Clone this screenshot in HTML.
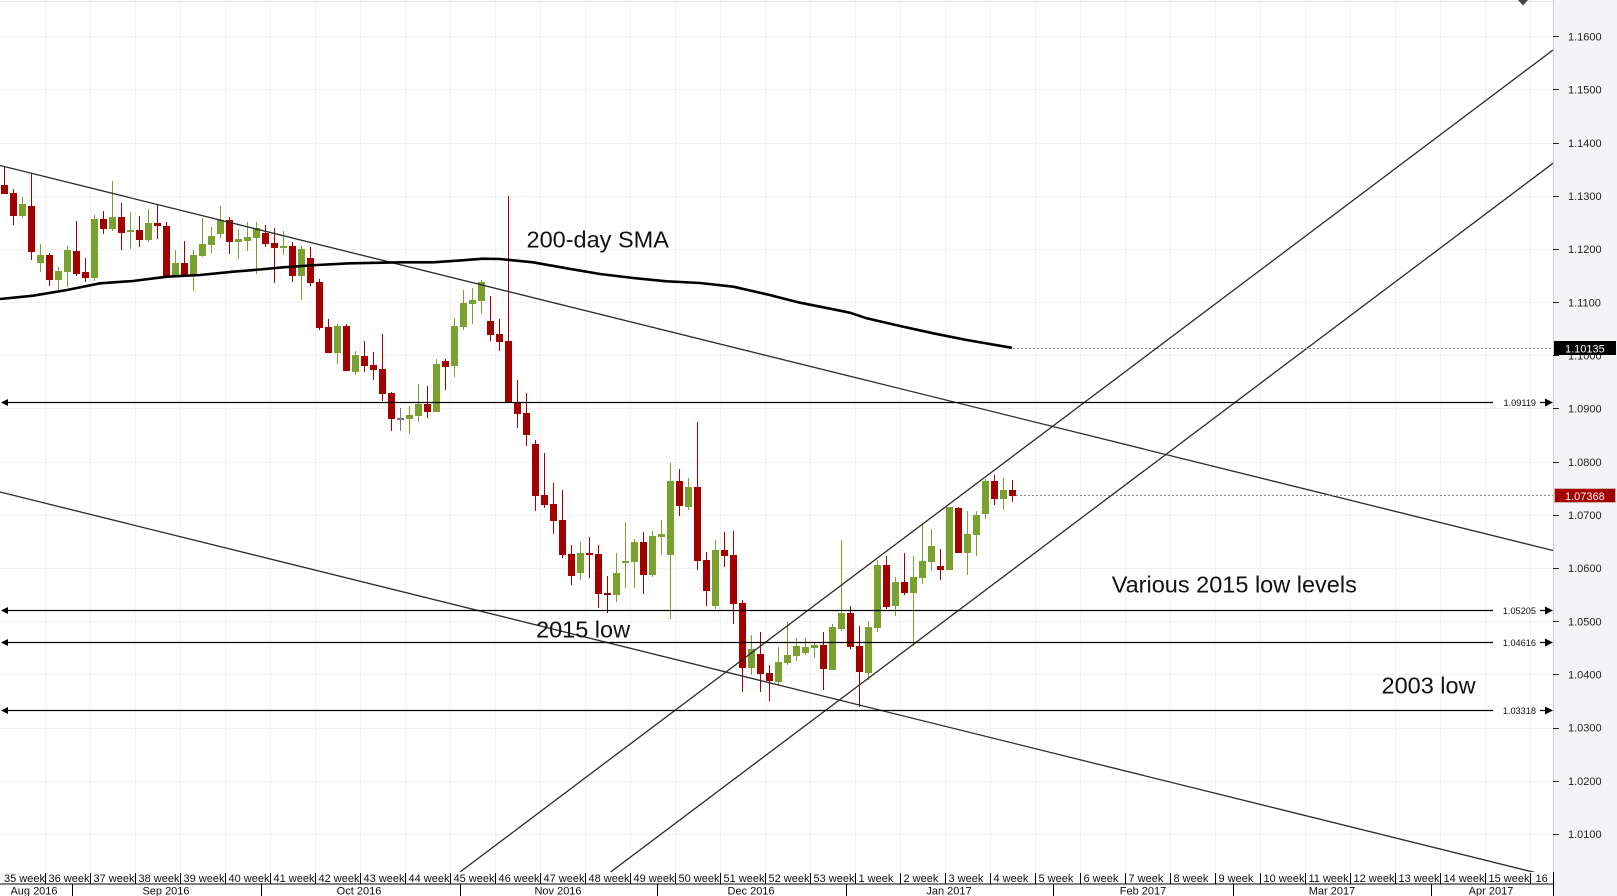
<!DOCTYPE html>
<html><head><meta charset="utf-8"><style>
html,body{margin:0;padding:0;background:#fff;}
svg{display:block;}
text{font-family:"Liberation Sans",Arial,sans-serif;}
</style></head><body>
<svg width="1617" height="896" viewBox="0 0 1617 896" xmlns="http://www.w3.org/2000/svg">
<defs><clipPath id="pc"><rect x="0" y="0" width="1553" height="872"/></clipPath></defs>
<rect x="0" y="0" width="1617" height="896" fill="#fff"/>
<!-- right axis panel -->
<rect x="1553.5" y="0" width="64" height="896" fill="#f4f4f6"/>
<line x1="1553.5" y1="0" x2="1553.5" y2="896" stroke="#cfcfcf" stroke-width="1"/>
<line x1="0" y1="1.5" x2="1553" y2="1.5" stroke="#e2e2e2" stroke-width="1"/>
<!-- grid -->
<g stroke="#f1f1f1" stroke-width="1">
<line x1="0" y1="36.5" x2="1553" y2="36.5"/><line x1="0" y1="89.5" x2="1553" y2="89.5"/><line x1="0" y1="143.5" x2="1553" y2="143.5"/><line x1="0" y1="196.5" x2="1553" y2="196.5"/><line x1="0" y1="249.5" x2="1553" y2="249.5"/><line x1="0" y1="302.5" x2="1553" y2="302.5"/><line x1="0" y1="355.5" x2="1553" y2="355.5"/><line x1="0" y1="408.5" x2="1553" y2="408.5"/><line x1="0" y1="462.5" x2="1553" y2="462.5"/><line x1="0" y1="515.5" x2="1553" y2="515.5"/><line x1="0" y1="568.5" x2="1553" y2="568.5"/><line x1="0" y1="621.5" x2="1553" y2="621.5"/><line x1="0" y1="674.5" x2="1553" y2="674.5"/><line x1="0" y1="728.5" x2="1553" y2="728.5"/><line x1="0" y1="781.5" x2="1553" y2="781.5"/><line x1="0" y1="834.5" x2="1553" y2="834.5"/>
<line x1="45.5" y1="0" x2="45.5" y2="872"/><line x1="90.5" y1="0" x2="90.5" y2="872"/><line x1="135.5" y1="0" x2="135.5" y2="872"/><line x1="180.5" y1="0" x2="180.5" y2="872"/><line x1="225.5" y1="0" x2="225.5" y2="872"/><line x1="270.5" y1="0" x2="270.5" y2="872"/><line x1="315.5" y1="0" x2="315.5" y2="872"/><line x1="360.5" y1="0" x2="360.5" y2="872"/><line x1="405.5" y1="0" x2="405.5" y2="872"/><line x1="450.5" y1="0" x2="450.5" y2="872"/><line x1="495.5" y1="0" x2="495.5" y2="872"/><line x1="540.5" y1="0" x2="540.5" y2="872"/><line x1="585.5" y1="0" x2="585.5" y2="872"/><line x1="630.5" y1="0" x2="630.5" y2="872"/><line x1="675.5" y1="0" x2="675.5" y2="872"/><line x1="720.5" y1="0" x2="720.5" y2="872"/><line x1="765.5" y1="0" x2="765.5" y2="872"/><line x1="810.5" y1="0" x2="810.5" y2="872"/><line x1="855.5" y1="0" x2="855.5" y2="872"/><line x1="900.5" y1="0" x2="900.5" y2="872"/><line x1="945.5" y1="0" x2="945.5" y2="872"/><line x1="990.5" y1="0" x2="990.5" y2="872"/><line x1="1035.5" y1="0" x2="1035.5" y2="872"/><line x1="1080.5" y1="0" x2="1080.5" y2="872"/><line x1="1125.5" y1="0" x2="1125.5" y2="872"/><line x1="1170.5" y1="0" x2="1170.5" y2="872"/><line x1="1215.5" y1="0" x2="1215.5" y2="872"/><line x1="1260.5" y1="0" x2="1260.5" y2="872"/><line x1="1305.5" y1="0" x2="1305.5" y2="872"/><line x1="1350.5" y1="0" x2="1350.5" y2="872"/><line x1="1395.5" y1="0" x2="1395.5" y2="872"/><line x1="1440.5" y1="0" x2="1440.5" y2="872"/><line x1="1485.5" y1="0" x2="1485.5" y2="872"/><line x1="1530.5" y1="0" x2="1530.5" y2="872"/>
</g>
<!-- candles red -->
<g fill="#a30000">
<rect x="4" y="166" width="1" height="28"/><rect x="1" y="185" width="7" height="9"/>
<rect x="13" y="189" width="1" height="36"/><rect x="10" y="193" width="7" height="23"/>
<rect x="31" y="173" width="1" height="87"/><rect x="28" y="206" width="7" height="46"/>
<rect x="49" y="253" width="1" height="33"/><rect x="46" y="255" width="7" height="25"/>
<rect x="76" y="221" width="1" height="55"/><rect x="73" y="251" width="7" height="23"/>
<rect x="85" y="258" width="1" height="24"/><rect x="82" y="272" width="7" height="6"/>
<rect x="103" y="211" width="1" height="23"/><rect x="100" y="219" width="7" height="10"/>
<rect x="121" y="203" width="1" height="47"/><rect x="118" y="217" width="7" height="16"/>
<rect x="139" y="216" width="1" height="31"/><rect x="136" y="230" width="7" height="10"/>
<rect x="157" y="204" width="1" height="35"/><rect x="154" y="223" width="7" height="3"/>
<rect x="166" y="222" width="1" height="54"/><rect x="163" y="226" width="7" height="50"/>
<rect x="184" y="241" width="1" height="35"/><rect x="181" y="263" width="7" height="13"/>
<rect x="229" y="217" width="1" height="37"/><rect x="226" y="220" width="7" height="22"/>
<rect x="265" y="225" width="1" height="22"/><rect x="262" y="233" width="7" height="11"/>
<rect x="274" y="228" width="1" height="55"/><rect x="271" y="243" width="7" height="5"/>
<rect x="292" y="242" width="1" height="40"/><rect x="289" y="246" width="7" height="30"/>
<rect x="310" y="247" width="1" height="39"/><rect x="307" y="258" width="7" height="25"/>
<rect x="319" y="279" width="1" height="51"/><rect x="316" y="282" width="7" height="46"/>
<rect x="328" y="319" width="1" height="34"/><rect x="325" y="327" width="7" height="26"/>
<rect x="346" y="324" width="1" height="47"/><rect x="343" y="326" width="7" height="45"/>
<rect x="364" y="341" width="1" height="31"/><rect x="361" y="356" width="7" height="10"/>
<rect x="373" y="352" width="1" height="28"/><rect x="370" y="365" width="7" height="5"/>
<rect x="382" y="334" width="1" height="67"/><rect x="379" y="369" width="7" height="25"/>
<rect x="391" y="392" width="1" height="39"/><rect x="388" y="393" width="7" height="26"/>
<rect x="427" y="386" width="1" height="32"/><rect x="424" y="404" width="7" height="8"/>
<rect x="445" y="359" width="1" height="31"/><rect x="442" y="361" width="7" height="6"/>
<rect x="490" y="296" width="1" height="45"/><rect x="487" y="321" width="7" height="14"/>
<rect x="499" y="319" width="1" height="32"/><rect x="496" y="334" width="7" height="8"/>
<rect x="508" y="196" width="1" height="207"/><rect x="505" y="341" width="7" height="62"/>
<rect x="517" y="380" width="1" height="48"/><rect x="514" y="403" width="7" height="11"/>
<rect x="526" y="393" width="1" height="53"/><rect x="523" y="413" width="7" height="22"/>
<rect x="535" y="440" width="1" height="71"/><rect x="532" y="444" width="7" height="52"/>
<rect x="544" y="453" width="1" height="55"/><rect x="541" y="495" width="7" height="10"/>
<rect x="553" y="483" width="1" height="51"/><rect x="550" y="504" width="7" height="17"/>
<rect x="562" y="490" width="1" height="68"/><rect x="559" y="520" width="7" height="35"/>
<rect x="571" y="545" width="1" height="40"/><rect x="568" y="554" width="7" height="22"/>
<rect x="589" y="537" width="1" height="41"/><rect x="586" y="553" width="7" height="2"/>
<rect x="598" y="545" width="1" height="63"/><rect x="595" y="554" width="7" height="40"/>
<rect x="607" y="576" width="1" height="37"/><rect x="604" y="593" width="7" height="2"/>
<rect x="643" y="532" width="1" height="62"/><rect x="640" y="542" width="7" height="33"/>
<rect x="679" y="469" width="1" height="47"/><rect x="676" y="481" width="7" height="25"/>
<rect x="697" y="422" width="1" height="148"/><rect x="694" y="487" width="7" height="74"/>
<rect x="706" y="552" width="1" height="54"/><rect x="703" y="560" width="7" height="31"/>
<rect x="724" y="532" width="1" height="35"/><rect x="721" y="550" width="7" height="6"/>
<rect x="733" y="531" width="1" height="93"/><rect x="730" y="555" width="7" height="49"/>
<rect x="742" y="600" width="1" height="92"/><rect x="739" y="603" width="7" height="65"/>
<rect x="760" y="632" width="1" height="60"/><rect x="757" y="654" width="7" height="20"/>
<rect x="769" y="665" width="1" height="36"/><rect x="766" y="673" width="7" height="8"/>
<rect x="823" y="632" width="1" height="58"/><rect x="820" y="645" width="7" height="24"/>
<rect x="850" y="606" width="1" height="43"/><rect x="847" y="613" width="7" height="34"/>
<rect x="859" y="626" width="1" height="81"/><rect x="856" y="646" width="7" height="26"/>
<rect x="886" y="556" width="1" height="53"/><rect x="883" y="565" width="7" height="42"/>
<rect x="904" y="553" width="1" height="42"/><rect x="901" y="582" width="7" height="11"/>
<rect x="940" y="549" width="1" height="31"/><rect x="937" y="566" width="7" height="4"/>
<rect x="958" y="507" width="1" height="46"/><rect x="955" y="508" width="7" height="45"/>
<rect x="994" y="475" width="1" height="30"/><rect x="991" y="481" width="7" height="18"/>
<rect x="1012" y="480" width="1" height="22"/><rect x="1009" y="490" width="7" height="6"/>
</g>
<!-- candles green -->
<g fill="#7aa12f">
<rect x="22" y="197" width="1" height="21"/><rect x="19" y="204" width="7" height="12"/>
<rect x="40" y="244" width="1" height="28"/><rect x="37" y="255" width="7" height="8"/>
<rect x="58" y="267" width="1" height="23"/><rect x="55" y="271" width="7" height="9"/>
<rect x="67" y="246" width="1" height="41"/><rect x="64" y="250" width="7" height="22"/>
<rect x="94" y="215" width="1" height="66"/><rect x="91" y="219" width="7" height="59"/>
<rect x="112" y="181" width="1" height="50"/><rect x="109" y="217" width="7" height="12"/>
<rect x="130" y="212" width="1" height="37"/><rect x="127" y="230" width="7" height="2"/>
<rect x="148" y="209" width="1" height="33"/><rect x="145" y="223" width="7" height="17"/>
<rect x="175" y="250" width="1" height="26"/><rect x="172" y="263" width="7" height="13"/>
<rect x="193" y="250" width="1" height="41"/><rect x="190" y="255" width="7" height="21"/>
<rect x="202" y="218" width="1" height="39"/><rect x="199" y="244" width="7" height="12"/>
<rect x="211" y="227" width="1" height="26"/><rect x="208" y="236" width="7" height="9"/>
<rect x="220" y="206" width="1" height="32"/><rect x="217" y="220" width="7" height="14"/>
<rect x="238" y="229" width="1" height="30"/><rect x="235" y="239" width="7" height="3"/>
<rect x="247" y="222" width="1" height="29"/><rect x="244" y="237" width="7" height="4"/>
<rect x="256" y="222" width="1" height="52"/><rect x="253" y="228" width="7" height="10"/>
<rect x="283" y="231" width="1" height="24"/><rect x="280" y="246" width="7" height="2"/>
<rect x="301" y="246" width="1" height="54"/><rect x="298" y="249" width="7" height="27"/>
<rect x="337" y="324" width="1" height="40"/><rect x="334" y="326" width="7" height="27"/>
<rect x="355" y="351" width="1" height="24"/><rect x="352" y="355" width="7" height="17"/>
<rect x="409" y="406" width="1" height="28"/><rect x="406" y="415" width="7" height="4"/>
<rect x="418" y="384" width="1" height="38"/><rect x="415" y="404" width="7" height="12"/>
<rect x="436" y="359" width="1" height="53"/><rect x="433" y="364" width="7" height="48"/>
<rect x="454" y="318" width="1" height="59"/><rect x="451" y="326" width="7" height="40"/>
<rect x="463" y="290" width="1" height="40"/><rect x="460" y="303" width="7" height="24"/>
<rect x="472" y="288" width="1" height="36"/><rect x="469" y="300" width="7" height="4"/>
<rect x="481" y="280" width="1" height="34"/><rect x="478" y="282" width="7" height="19"/>
<rect x="580" y="542" width="1" height="38"/><rect x="577" y="553" width="7" height="20"/>
<rect x="616" y="553" width="1" height="49"/><rect x="613" y="573" width="7" height="22"/>
<rect x="625" y="522" width="1" height="66"/><rect x="622" y="561" width="7" height="2"/>
<rect x="634" y="539" width="1" height="49"/><rect x="631" y="542" width="7" height="20"/>
<rect x="652" y="531" width="1" height="46"/><rect x="649" y="536" width="7" height="39"/>
<rect x="661" y="520" width="1" height="35"/><rect x="658" y="534" width="7" height="3"/>
<rect x="670" y="463" width="1" height="156"/><rect x="667" y="481" width="7" height="74"/>
<rect x="688" y="478" width="1" height="32"/><rect x="685" y="487" width="7" height="20"/>
<rect x="715" y="540" width="1" height="69"/><rect x="712" y="550" width="7" height="56"/>
<rect x="751" y="635" width="1" height="40"/><rect x="748" y="649" width="7" height="19"/>
<rect x="778" y="647" width="1" height="38"/><rect x="775" y="662" width="7" height="20"/>
<rect x="787" y="622" width="1" height="43"/><rect x="784" y="655" width="7" height="8"/>
<rect x="796" y="638" width="1" height="23"/><rect x="793" y="646" width="7" height="10"/>
<rect x="805" y="638" width="1" height="17"/><rect x="802" y="647" width="7" height="6"/>
<rect x="814" y="642" width="1" height="16"/><rect x="811" y="645" width="7" height="3"/>
<rect x="832" y="624" width="1" height="46"/><rect x="829" y="627" width="7" height="43"/>
<rect x="841" y="540" width="1" height="91"/><rect x="838" y="613" width="7" height="16"/>
<rect x="868" y="621" width="1" height="59"/><rect x="865" y="627" width="7" height="46"/>
<rect x="877" y="560" width="1" height="72"/><rect x="874" y="565" width="7" height="63"/>
<rect x="895" y="577" width="1" height="39"/><rect x="892" y="582" width="7" height="24"/>
<rect x="913" y="556" width="1" height="90"/><rect x="910" y="577" width="7" height="16"/>
<rect x="922" y="523" width="1" height="61"/><rect x="919" y="561" width="7" height="17"/>
<rect x="931" y="529" width="1" height="42"/><rect x="928" y="546" width="7" height="16"/>
<rect x="949" y="507" width="1" height="63"/><rect x="946" y="507" width="7" height="63"/>
<rect x="967" y="511" width="1" height="64"/><rect x="964" y="534" width="7" height="19"/>
<rect x="976" y="511" width="1" height="45"/><rect x="973" y="515" width="7" height="20"/>
<rect x="985" y="479" width="1" height="40"/><rect x="982" y="481" width="7" height="33"/>
<rect x="1003" y="478" width="1" height="32"/><rect x="1000" y="490" width="7" height="9"/>
</g>
<g fill="#777"><rect x="400" y="408" width="1" height="23"/><rect x="397" y="418" width="7" height="2"/></g>
<!-- lines -->
<g clip-path="url(#pc)" fill="none">
<line x1="0" y1="165.5" x2="1553" y2="550.5" stroke="#2a2a2a" stroke-width="1.3"/>
<line x1="0" y1="492" x2="1553" y2="877" stroke="#2a2a2a" stroke-width="1.3"/>
<line x1="460" y1="872" x2="1553" y2="50" stroke="#2a2a2a" stroke-width="1.3"/>
<line x1="610.6" y1="872" x2="1553" y2="163.3" stroke="#2a2a2a" stroke-width="1.3"/>
<polyline stroke="#000" stroke-width="2.6" points="0,299 33,295.7 67,290 100,283.3 133,281 167,276.7 200,275 233,271.7 260,269.5 283,267.3 317,265 350,263.3 400,262.3 433,262.3 457,260.7 483,258.7 500,259 533,262.3 566.7,268.3 600,274 633.3,278 666.7,281.3 700,283 733.3,286.7 766.7,294.3 800,302.7 833.3,309.3 850,312.7 866.7,318.3 900,326 933.3,333.3 966.7,340 1012,347.8"/>
<line x1="1013" y1="348.5" x2="1553" y2="348.5" stroke="#888" stroke-width="1" stroke-dasharray="2,2"/>
<line x1="1016" y1="495.5" x2="1553" y2="495.5" stroke="#888" stroke-width="1" stroke-dasharray="2,2"/>
</g>
<!-- horizontal levels -->
<g stroke="#000" stroke-width="1.2">
<line x1="6" y1="402.5" x2="1493" y2="402.5"/>
<line x1="6" y1="610.5" x2="1493" y2="610.5"/>
<line x1="6" y1="642.5" x2="1493" y2="642.5"/>
<line x1="6" y1="710.5" x2="1493" y2="710.5"/>
<line x1="1540" y1="402.5" x2="1547" y2="402.5"/>
<line x1="1540" y1="610.5" x2="1547" y2="610.5"/>
<line x1="1540" y1="642.5" x2="1547" y2="642.5"/>
<line x1="1540" y1="710.5" x2="1547" y2="710.5"/>
</g>
<g fill="#000">
<polygon points="1,402.5 8,399 8,406"/><polygon points="1,610.5 8,607 8,614"/><polygon points="1,642.5 8,639 8,646"/><polygon points="1,710.5 8,707 8,714"/>
<polygon points="1545,398.5 1553,402.5 1545,406.5"/><polygon points="1545,606.5 1553,610.5 1545,614.5"/><polygon points="1545,638.5 1553,642.5 1545,646.5"/><polygon points="1545,706.5 1553,710.5 1545,714.5"/>
</g>
<g font-size="9.2" fill="#111" text-anchor="end">
<text x="1536" y="406">1.09119</text>
<text x="1536" y="614">1.05205</text>
<text x="1536" y="646">1.04616</text>
<text x="1536" y="714">1.03318</text>
</g>
<!-- annotations -->
<g font-size="23.5" fill="#111">
<text x="526.5" y="247.3">200-day SMA</text>
<text x="536" y="637.7">2015 low</text>
<text x="1111.7" y="592.3">Various 2015 low levels</text>
<text x="1381.5" y="693.3">2003 low</text>
</g>
<!-- top marker -->
<polygon points="1518,0 1528,0 1523,5.5" fill="#444"/>
<!-- price axis -->
<g stroke="#222" stroke-width="1">
<line x1="1553" y1="36.5" x2="1559" y2="36.5"/><line x1="1553" y1="89.5" x2="1559" y2="89.5"/><line x1="1553" y1="143.5" x2="1559" y2="143.5"/><line x1="1553" y1="196.5" x2="1559" y2="196.5"/><line x1="1553" y1="249.5" x2="1559" y2="249.5"/><line x1="1553" y1="302.5" x2="1559" y2="302.5"/><line x1="1553" y1="355.5" x2="1559" y2="355.5"/><line x1="1553" y1="408.5" x2="1559" y2="408.5"/><line x1="1553" y1="462.5" x2="1559" y2="462.5"/><line x1="1553" y1="515.5" x2="1559" y2="515.5"/><line x1="1553" y1="568.5" x2="1559" y2="568.5"/><line x1="1553" y1="621.5" x2="1559" y2="621.5"/><line x1="1553" y1="674.5" x2="1559" y2="674.5"/><line x1="1553" y1="728.5" x2="1559" y2="728.5"/><line x1="1553" y1="781.5" x2="1559" y2="781.5"/><line x1="1553" y1="834.5" x2="1559" y2="834.5"/>
</g>
<g font-size="11" fill="#222">
<text x="1568" y="40.7">1.1600</text><text x="1568" y="93.7">1.1500</text><text x="1568" y="147">1.1400</text><text x="1568" y="200">1.1300</text><text x="1568" y="253.2">1.1200</text><text x="1568" y="306.3">1.1100</text><text x="1568" y="359.5">1.1000</text><text x="1568" y="412.7">1.0900</text><text x="1568" y="465.9">1.0800</text><text x="1568" y="519">1.0700</text><text x="1568" y="572.2">1.0600</text><text x="1568" y="625.4">1.0500</text><text x="1568" y="678.5">1.0400</text><text x="1568" y="731.7">1.0300</text><text x="1568" y="784.9">1.0200</text><text x="1568" y="838">1.0100</text>
</g>
<rect x="1554" y="341" width="62" height="14" fill="#000"/>
<text x="1565" y="352.5" font-size="11" fill="#fff">1.10135</text>
<rect x="1554.5" y="488.5" width="61" height="14" fill="#a30000" stroke="#d9b0b0" stroke-width="1"/>
<text x="1565" y="499.8" font-size="11" fill="#fff">1.07368</text>
<!-- time axis -->
<rect x="0" y="872" width="1553" height="24" fill="#fff"/>
<line x1="0" y1="884" x2="1553" y2="884" stroke="#000" stroke-width="1"/>
<line x1="1553.5" y1="872" x2="1553.5" y2="896" stroke="#000" stroke-width="1"/>
<g stroke="#000" stroke-width="1">
<line x1="45.5" y1="873" x2="45.5" y2="884"/><line x1="90.5" y1="873" x2="90.5" y2="884"/><line x1="135.5" y1="873" x2="135.5" y2="884"/><line x1="180.5" y1="873" x2="180.5" y2="884"/><line x1="225.5" y1="873" x2="225.5" y2="884"/><line x1="270.5" y1="873" x2="270.5" y2="884"/><line x1="315.5" y1="873" x2="315.5" y2="884"/><line x1="360.5" y1="873" x2="360.5" y2="884"/><line x1="405.5" y1="873" x2="405.5" y2="884"/><line x1="450.5" y1="873" x2="450.5" y2="884"/><line x1="495.5" y1="873" x2="495.5" y2="884"/><line x1="540.5" y1="873" x2="540.5" y2="884"/><line x1="585.5" y1="873" x2="585.5" y2="884"/><line x1="630.5" y1="873" x2="630.5" y2="884"/><line x1="675.5" y1="873" x2="675.5" y2="884"/><line x1="720.5" y1="873" x2="720.5" y2="884"/><line x1="765.5" y1="873" x2="765.5" y2="884"/><line x1="810.5" y1="873" x2="810.5" y2="884"/><line x1="855.5" y1="873" x2="855.5" y2="884"/><line x1="900.5" y1="873" x2="900.5" y2="884"/><line x1="945.5" y1="873" x2="945.5" y2="884"/><line x1="990.5" y1="873" x2="990.5" y2="884"/><line x1="1035.5" y1="873" x2="1035.5" y2="884"/><line x1="1080.5" y1="873" x2="1080.5" y2="884"/><line x1="1125.5" y1="873" x2="1125.5" y2="884"/><line x1="1170.5" y1="873" x2="1170.5" y2="884"/><line x1="1215.5" y1="873" x2="1215.5" y2="884"/><line x1="1260.5" y1="873" x2="1260.5" y2="884"/><line x1="1305.5" y1="873" x2="1305.5" y2="884"/><line x1="1350.5" y1="873" x2="1350.5" y2="884"/><line x1="1395.5" y1="873" x2="1395.5" y2="884"/><line x1="1440.5" y1="873" x2="1440.5" y2="884"/><line x1="1485.5" y1="873" x2="1485.5" y2="884"/><line x1="1530.5" y1="873" x2="1530.5" y2="884"/>
<line x1="72.5" y1="884" x2="72.5" y2="896"/><line x1="261.5" y1="884" x2="261.5" y2="896"/><line x1="460.5" y1="884" x2="460.5" y2="896"/><line x1="657.5" y1="884" x2="657.5" y2="896"/><line x1="846.5" y1="884" x2="846.5" y2="896"/><line x1="1053.5" y1="884" x2="1053.5" y2="896"/><line x1="1233.5" y1="884" x2="1233.5" y2="896"/><line x1="1431.5" y1="884" x2="1431.5" y2="896"/>
</g>
<g font-size="11" fill="#111">
<text x="4" y="882">35 week</text><text x="48.5" y="882">36 week</text><text x="93.5" y="882">37 week</text><text x="138.5" y="882">38 week</text><text x="183.5" y="882">39 week</text><text x="228.5" y="882">40 week</text><text x="273.5" y="882">41 week</text><text x="318.5" y="882">42 week</text><text x="363.5" y="882">43 week</text><text x="408.5" y="882">44 week</text><text x="453.5" y="882">45 week</text><text x="498.5" y="882">46 week</text><text x="543.5" y="882">47 week</text><text x="588.5" y="882">48 week</text><text x="633.5" y="882">49 week</text><text x="678.5" y="882">50 week</text><text x="723.5" y="882">51 week</text><text x="768.5" y="882">52 week</text><text x="813.5" y="882">53 week</text><text x="858.5" y="882">1 week</text><text x="903.5" y="882">2 week</text><text x="948.5" y="882">3 week</text><text x="993.5" y="882">4 week</text><text x="1038.5" y="882">5 week</text><text x="1083.5" y="882">6 week</text><text x="1128.5" y="882">7 week</text><text x="1173.5" y="882">8 week</text><text x="1218.5" y="882">9 week</text><text x="1263.5" y="882">10 week</text><text x="1308.5" y="882">11 week</text><text x="1353.5" y="882">12 week</text><text x="1398.5" y="882">13 week</text><text x="1443.5" y="882">14 week</text><text x="1488.5" y="882">15 week</text><text x="1535.5" y="882">16</text>
</g>
<g font-size="11" fill="#111" text-anchor="middle">
<text x="34" y="894.5">Aug 2016</text><text x="166" y="894.5">Sep 2016</text><text x="359" y="894.5">Oct 2016</text><text x="558" y="894.5">Nov 2016</text><text x="751" y="894.5">Dec 2016</text><text x="949" y="894.5">Jan 2017</text><text x="1143" y="894.5">Feb 2017</text><text x="1332" y="894.5">Mar 2017</text><text x="1491" y="894.5">Apr 2017</text>
</g>
</svg>
</body></html>
